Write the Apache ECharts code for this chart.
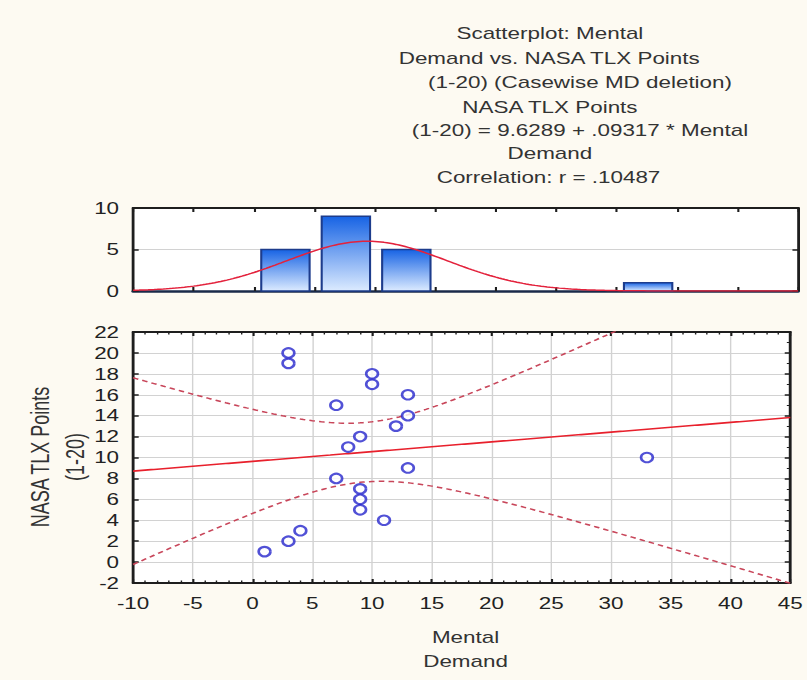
<!DOCTYPE html>
<html><head><meta charset="utf-8">
<script src="https://cdn.jsdelivr.net/npm/echarts@6/dist/echarts.min.js"></script>
<style>
html,body{margin:0;padding:0;background:#fdfaf2;overflow:hidden;}
#wrap{width:807px;height:680px;overflow:hidden;}
#chart{width:576px;height:680px;transform:scaleX(1.40104);transform-origin:0 0;}
</style></head><body><div id="wrap"><div id="chart"></div></div>
<script>
// ---- data ----
const mentalDemand = [3, 3, 10, 10, 13, 7, 13, 12, 9, 8, 13, 7, 9, 9, 9, 11, 4, 3, 1, 33];
const tlxPoints    = [20, 19, 18, 17, 16, 15, 14, 13, 12, 11, 9, 8, 7, 6, 5, 4, 3, 2, 1, 10];
const histBinStart = [0, 5, 10, 30];
const histCounts   = [5, 9, 5, 1];
const binWidth = 5;
const xRange = [-10, 45];   // interval 5
const yRange = [-2, 22];    // interval 2
const histRange = [0, 10];  // interval 5
const titleLines = [
  'Scatterplot: Mental',
  'Demand vs. NASA TLX Points',
  '(1-20) (Casewise MD deletion)',
  'NASA TLX Points',
  '(1-20) = 9.6289 + .09317 * Mental',
  'Demand',
  'Correlation: r = .10487'
];
const yNameLines = ['NASA TLX Points', '(1-20)'];
const xNameLines = ['Mental', 'Demand'];
const tCrit = 2.1009; // t(0.975, 18)

// ---- statistics derived from the data (fit overlays) ----
const n = mentalDemand.length;
const mx = mentalDemand.reduce((a, b) => a + b, 0) / n;
const my = tlxPoints.reduce((a, b) => a + b, 0) / n;
let sxx = 0, sxy = 0, syy = 0;
for (let i = 0; i < n; i++) {
  sxx += (mentalDemand[i] - mx) ** 2;
  sxy += (mentalDemand[i] - mx) * (tlxPoints[i] - my);
  syy += (tlxPoints[i] - my) ** 2;
}
const slope = sxy / sxx, icpt = my - slope * mx;
const sRes = Math.sqrt((syy - slope * sxy) / (n - 2));
const sdX = Math.sqrt(sxx / (n - 1));
const fitLine = [], upperBand = [], lowerBand = [], normCurve = [];
for (let k = 0; k <= 220; k++) {
  const x = xRange[0] + k * (xRange[1] - xRange[0]) / 220;
  const yh = icpt + slope * x;
  const hw = tCrit * sRes * Math.sqrt(1 / n + (x - mx) ** 2 / sxx);
  fitLine.push([x, yh]);
  upperBand.push([x, yh + hw]);
  lowerBand.push([x, yh - hw]);
  normCurve.push([x, n * binWidth * Math.exp(-0.5 * ((x - mx) / sdX) ** 2) / (sdX * Math.sqrt(2 * Math.PI))]);
}

// ---- chart ----
const FONT = 'Liberation Sans, Arial, sans-serif';
const AX = '#1e1e1e';
const GL = 95, GW = 474.6;
const chart = echarts.init(document.getElementById('chart'), null, {renderer: 'svg', width: 576, height: 680});

const frameAxis = (extra) => Object.assign({
  type: 'value', axisLine: {show: true, onZero: false, lineStyle: {color: AX, width: 2}},
  axisTick: {show: true, inside: true, length: 4, lineStyle: {color: AX, width: 1.5}},
  axisLabel: {show: false}, splitLine: {show: false}
}, extra);

const graphics = [];
const titleX = [392.5, 392, 414, 392.5, 414, 392.5, 391.5];
const titleY = [33, 58, 82, 107, 130, 153, 177];
titleLines.forEach((t, i) => graphics.push({type: 'text', x: titleX[i], y: titleY[i],
  style: {text: t, fontSize: 16, fontFamily: FONT, fill: '#333', align: 'center', verticalAlign: 'middle'}}));
xNameLines.forEach((t, i) => graphics.push({type: 'text', x: GL + GW / 2, y: 637 + i * 24,
  style: {text: t, fontSize: 16, fontFamily: FONT, fill: '#333', align: 'center', verticalAlign: 'middle'}}));
yNameLines.forEach((t, i) => graphics.push({type: 'text', x: 28.5 + i * 25, y: 457, rotation: Math.PI / 2,
  style: {text: t, fontSize: 18, fontFamily: FONT, fill: '#333', align: 'center', verticalAlign: 'middle'}}));

const barGrad = new echarts.graphic.LinearGradient(0, 0, 0, 1, [
  {offset: 0, color: '#1763e4'}, {offset: 1, color: '#dcebff'}]);

chart.setOption({
  animation: false,
  backgroundColor: '#fdfaf2',
  grid: [
    {left: GL, width: GW, top: 208, height: 83, show: true, backgroundColor: '#ffffff', borderWidth: 0},
    {left: GL, width: GW, top: 332, height: 251, show: true, backgroundColor: '#ffffff', borderWidth: 0}
  ],
  xAxis: [
    frameAxis({gridIndex: 0, position: 'bottom', min: xRange[0], max: xRange[1], interval: 5,
      axisLine: {show: true, onZero: false, lineStyle: {color: '#1a2a4a', width: 2.5}}}),
    frameAxis({gridIndex: 1, position: 'bottom', min: xRange[0], max: xRange[1], interval: 5,
      minorTick: {show: true, splitNumber: 5, length: 2.5, lineStyle: {color: AX}},
      axisLabel: {show: true, fontSize: 16, fontFamily: FONT, color: '#222', margin: 12},
      splitLine: {show: true, lineStyle: {color: '#d2d2d2', width: 1}}}),
    frameAxis({gridIndex: 1, position: 'top', min: xRange[0], max: xRange[1], interval: 5,
      minorTick: {show: true, splitNumber: 5, length: 2.5, lineStyle: {color: AX}}}),
    frameAxis({gridIndex: 0, position: 'top', min: xRange[0], max: xRange[1], interval: 5})
  ],
  yAxis: [
    frameAxis({gridIndex: 0, position: 'left', min: histRange[0], max: histRange[1], interval: 5,
      axisLabel: {show: true, fontSize: 16, fontFamily: FONT, color: '#222', margin: 10},
      splitLine: {show: true, lineStyle: {color: '#d2d2d2', width: 1}}}),
    frameAxis({gridIndex: 1, position: 'left', min: yRange[0], max: yRange[1], interval: 2,
      axisLabel: {show: true, fontSize: 16, fontFamily: FONT, color: '#222', margin: 10},
      splitLine: {show: true, lineStyle: {color: '#d2d2d2', width: 1}}}),
    frameAxis({gridIndex: 1, position: 'right', min: yRange[0], max: yRange[1], interval: 2,
      minorTick: {show: true, splitNumber: 2, length: 2.5, lineStyle: {color: AX}}}),
    frameAxis({gridIndex: 0, position: 'right', min: histRange[0], max: histRange[1], interval: 5})
  ],
  series: [
    {type: 'custom', xAxisIndex: 0, yAxisIndex: 0, encode: {x: 0, y: 1},
      data: histBinStart.map((s, i) => [s, histCounts[i]]),
      renderItem: (params, api) => {
        const s = api.value(0), c = api.value(1);
        const p0 = api.coord([s + 0.6, c]);
        const p1 = api.coord([s + binWidth - 0.4, 0]);
        return {type: 'rect', shape: {x: p0[0], y: p0[1], width: p1[0] - p0[0], height: p1[1] - p0[1]},
          style: {fill: barGrad, stroke: '#1d3c8c', lineWidth: 1.5}};
      }, z: 3},
    {type: 'line', xAxisIndex: 0, yAxisIndex: 0, data: normCurve, showSymbol: false,
      lineStyle: {color: '#e3223c', width: 1.5}, z: 4},
    {type: 'line', xAxisIndex: 1, yAxisIndex: 1, data: fitLine, showSymbol: false,
      lineStyle: {color: '#e8202c', width: 1.6}, z: 3},
    {type: 'line', xAxisIndex: 1, yAxisIndex: 1, data: upperBand, showSymbol: false, clip: true,
      lineStyle: {color: '#c8465a', width: 1.5, type: [4, 3]}, z: 3},
    {type: 'line', xAxisIndex: 1, yAxisIndex: 1, data: lowerBand, showSymbol: false, clip: true,
      lineStyle: {color: '#c8465a', width: 1.5, type: [4, 3]}, z: 3},
    {type: 'scatter', xAxisIndex: 1, yAxisIndex: 1,
      data: mentalDemand.map((x, i) => [x, tlxPoints[i]]),
      symbol: 'emptyCircle', symbolSize: [8.4, 9.5],
      itemStyle: {color: '#2626cc', borderColor: '#2626cc', borderWidth: 2}, z: 5}
  ],
  graphic: graphics
});
</script></body></html>
